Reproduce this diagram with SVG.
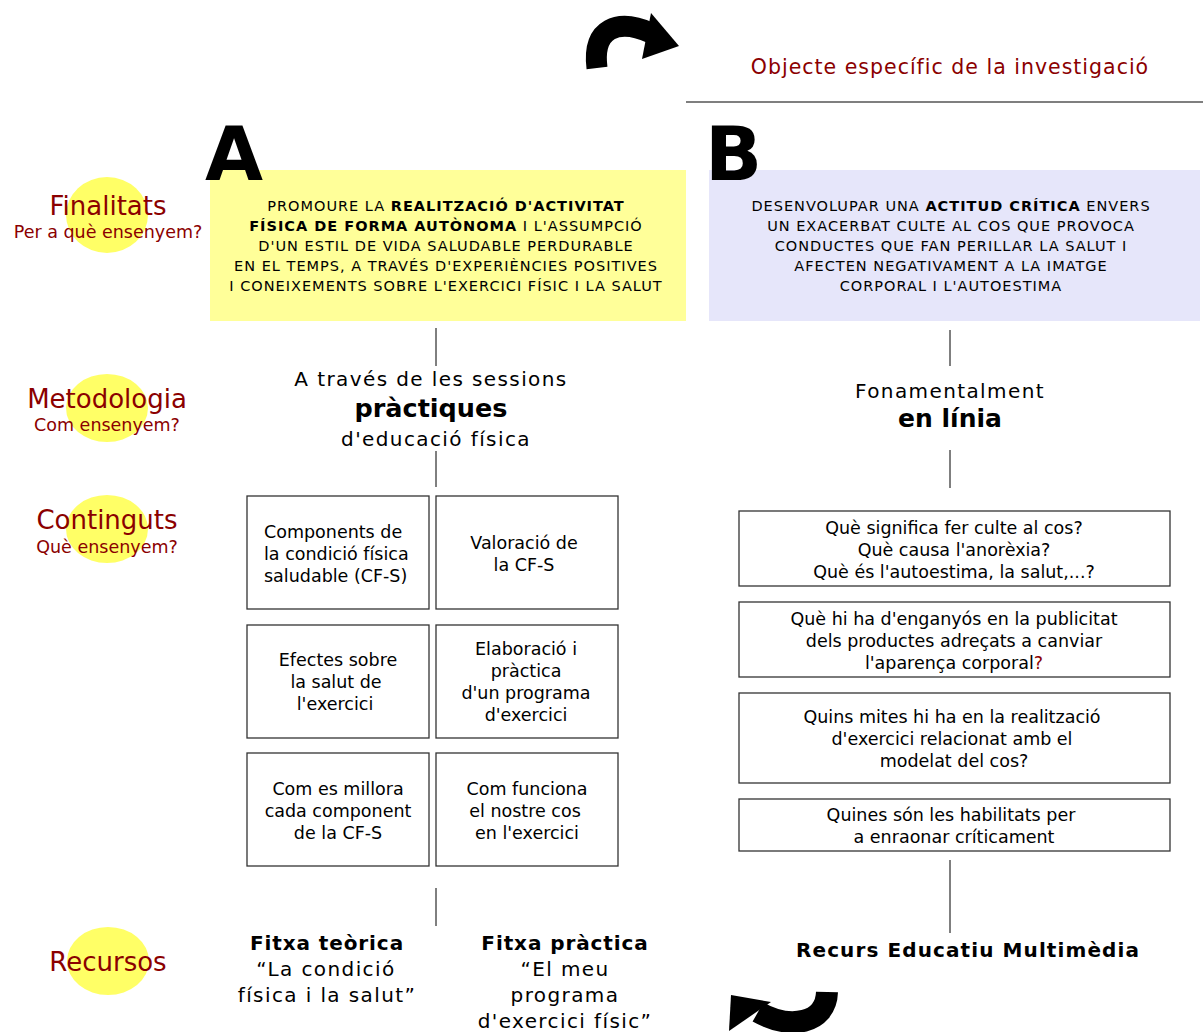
<svg xmlns="http://www.w3.org/2000/svg" width="1203" height="1032" viewBox="0 0 1203 1032">
<style>
text{font-family:"DejaVu Sans","Verdana",sans-serif;fill:#000}
.lbl{fill:#8b0000;text-anchor:middle;font-size:26px}
.sub{fill:#8b0000;text-anchor:middle;font-size:17.5px}
.red{fill:#8b0000}
.circ{fill:#ffff66}
.box{fill:#fff;stroke:#333;stroke-width:1.3}
.bt{font-size:17.5px;text-anchor:middle}
.cap{font-size:14.5px;letter-spacing:1px;text-anchor:middle}
.big{font-size:20px;letter-spacing:1.4px;text-anchor:middle}
.b{font-weight:bold}
.conn line{stroke:#000;stroke-width:1}
.letter{font-size:75px;font-weight:bold}
</style>

<g id="arrow-top">
<path d="M597 68 C592 28 618 18 651 33" fill="none" stroke="#000" stroke-width="21"/>
<polygon points="651,13 679,46 642,59" fill="#000"/>
</g>
<g id="title">
<text class="red" x="950" y="74" font-size="20.5" letter-spacing="1" text-anchor="middle">Objecte específic de la investigació</text>
<line x1="686" y1="102" x2="1203" y2="102" stroke="#000" stroke-width="1.2"/>
</g>

<g id="label-finalitats">
<ellipse class="circ" cx="107" cy="215" rx="41" ry="38"/>
<text class="lbl" x="108" y="215">Finalitats</text>
<text class="sub" x="108" y="238">Per a què ensenyem?</text>
</g>
<g id="label-metodologia">
<ellipse class="circ" cx="107" cy="408" rx="41" ry="34"/>
<text class="lbl" x="107" y="408">Metodologia</text>
<text class="sub" x="107" y="431">Com ensenyem?</text>
</g>
<g id="label-continguts">
<ellipse class="circ" cx="107" cy="529" rx="41" ry="34"/>
<text class="lbl" x="107" y="529">Continguts</text>
<text class="sub" x="107" y="553">Què ensenyem?</text>
</g>
<g id="label-recursos">
<ellipse class="circ" cx="108" cy="961" rx="41" ry="34"/>
<text class="lbl" x="108" y="971">Recursos</text>
</g>

<g id="finalitat-A">
<rect x="210" y="170" width="476" height="151" fill="#ffff99"/>
<text class="letter" x="205" y="180">A</text>
<text class="cap" x="446" y="211">PROMOURE LA <tspan class="b">REALITZACIÓ D'ACTIVITAT</tspan></text>
<text class="cap" x="446" y="231"><tspan class="b">FÍSICA DE FORMA AUTÒNOMA</tspan> I L'ASSUMPCIÓ</text>
<text class="cap" x="446" y="251">D'UN ESTIL DE VIDA SALUDABLE PERDURABLE</text>
<text class="cap" x="446" y="271">EN EL TEMPS, A TRAVÉS D'EXPERIÈNCIES POSITIVES</text>
<text class="cap" x="446" y="291">I CONEIXEMENTS SOBRE L'EXERCICI FÍSIC I LA SALUT</text>
</g>

<g id="finalitat-B">
<rect x="709" y="170" width="491" height="151" fill="#e6e6fa"/>
<text class="letter" x="705" y="180">B</text>
<text class="cap" x="951" y="211">DESENVOLUPAR UNA <tspan class="b">ACTITUD CRÍTICA</tspan> ENVERS</text>
<text class="cap" x="951" y="231">UN EXACERBAT CULTE AL COS QUE PROVOCA</text>
<text class="cap" x="951" y="251">CONDUCTES QUE FAN PERILLAR LA SALUT I</text>
<text class="cap" x="951" y="271">AFECTEN NEGATIVAMENT A LA IMATGE</text>
<text class="cap" x="951" y="291">CORPORAL I L'AUTOESTIMA</text>
</g>

<g class="conn" id="connectors">
<line x1="436" y1="328" x2="436" y2="366"/>
<line x1="436" y1="451" x2="436" y2="487"/>
<line x1="436" y1="888" x2="436" y2="926"/>
<line x1="950" y1="330" x2="950" y2="366"/>
<line x1="950" y1="450" x2="950" y2="488"/>
<line x1="950" y1="860" x2="950" y2="933"/>
</g>

<g id="metodologia-A">
<text class="big" x="431" y="386">A través de les sessions</text>
<text class="b" x="431" y="417" font-size="25.5" text-anchor="middle">pràctiques</text>
<text class="big" x="436" y="446">d'educació física</text>
</g>
<g id="metodologia-B">
<text class="big" x="950" y="398">Fonamentalment</text>
<text class="b" x="950" y="427" font-size="25" text-anchor="middle">en línia</text>
</g>

<g id="c-A1"><rect class="box" x="247" y="496" width="182" height="113"/>
<text class="bt" x="264" y="538" style="text-anchor:start">Components de</text>
<text class="bt" x="264" y="560" style="text-anchor:start">la condició física</text>
<text class="bt" x="264" y="582" style="text-anchor:start">saludable (CF-S)</text></g>
<g id="c-A2"><rect class="box" x="436" y="496" width="182" height="113"/>
<text class="bt" x="524" y="549">Valoració de</text>
<text class="bt" x="524" y="571">la CF-S</text></g>
<g id="c-A3"><rect class="box" x="247" y="625" width="182" height="113"/>
<text class="bt" x="338" y="666">Efectes sobre</text>
<text class="bt" x="336" y="688">la salut de</text>
<text class="bt" x="335" y="710">l'exercici</text></g>
<g id="c-A4"><rect class="box" x="436" y="625" width="182" height="113"/>
<text class="bt" x="526" y="655">Elaboració i</text>
<text class="bt" x="526" y="677">pràctica</text>
<text class="bt" x="526" y="699">d'un programa</text>
<text class="bt" x="526" y="721">d'exercici</text></g>
<g id="c-A5"><rect class="box" x="247" y="753" width="182" height="113"/>
<text class="bt" x="338" y="795">Com es millora</text>
<text class="bt" x="338" y="817">cada component</text>
<text class="bt" x="338" y="839">de la CF-S</text></g>
<g id="c-A6"><rect class="box" x="436" y="753" width="182" height="113"/>
<text class="bt" x="527" y="795">Com funciona</text>
<text class="bt" x="525" y="817">el nostre cos</text>
<text class="bt" x="527" y="839">en l'exercici</text></g>

<g id="c-B1"><rect class="box" x="739" y="511" width="431" height="75"/>
<text class="bt" x="954" y="534">Què significa fer culte al cos?</text>
<text class="bt" x="954" y="556">Què causa l'anorèxia?</text>
<text class="bt" x="954" y="578">Què és l'autoestima, la salut,...?</text></g>
<g id="c-B2"><rect class="box" x="739" y="602" width="431" height="75"/>
<text class="bt" x="954" y="625">Què hi ha d'enganyós en la publicitat</text>
<text class="bt" x="954" y="647">dels productes adreçats a canviar</text>
<text class="bt" x="954" y="669">l'aparença corporal<tspan class="red">?</tspan></text></g>
<g id="c-B3"><rect class="box" x="739" y="693" width="431" height="90"/>
<text class="bt" x="952" y="723">Quins mites hi ha en la realització</text>
<text class="bt" x="952" y="745">d'exercici relacionat amb el</text>
<text class="bt" x="954" y="767">modelat del cos?</text></g>
<g id="c-B4"><rect class="box" x="739" y="799" width="431" height="52"/>
<text class="bt" x="951" y="821">Quines són les habilitats per</text>
<text class="bt" x="954" y="843">a enraonar críticament</text></g>

<g id="recurs-A1">
<text class="big b" x="327" y="950" style="letter-spacing:0.9px">Fitxa teòrica</text>
<text class="big" x="326" y="976">“La condició</text>
<text class="big" x="327" y="1002">física i la salut”</text>
</g>
<g id="recurs-A2">
<text class="big b" x="565" y="950" style="letter-spacing:0.9px">Fitxa pràctica</text>
<text class="big" x="565" y="976">“El meu</text>
<text class="big" x="565" y="1002">programa</text>
<text class="big" x="565" y="1028">d'exercici físic”</text>
</g>
<g id="recurs-B">
<text class="big b" x="968" y="957" style="letter-spacing:1.1px">Recurs Educatiu Multimèdia</text>
</g>

<g id="arrow-bottom">
<path d="M827 992 C826 1024 790 1030 758 1012" fill="none" stroke="#000" stroke-width="22"/>
<polygon points="731,995 771,1002 729,1031" fill="#000"/>
</g>
</svg>
